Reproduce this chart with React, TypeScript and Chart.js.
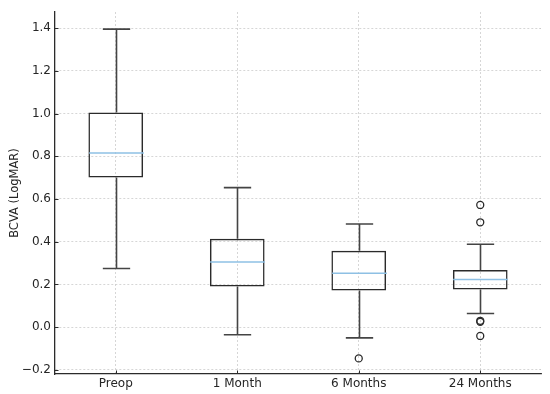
import React, { useEffect, useRef } from "react";
import { Chart, registerables } from "chart.js";

Chart.register(...registerables);

const categories = ["Preop", "1 Month", "6 Months", "24 Months"];
const whiskerLow = [0.275, -0.035, -0.05, 0.064];
const q1 = [0.7, 0.19, 0.172, 0.176];
const median = [0.815, 0.305, 0.252, 0.223];
const q3 = [1.005, 0.414, 0.358, 0.268];
const whiskerHigh = [1.395, 0.653, 0.483, 0.388];
const outlierCategory = ["6 Months", "24 Months", "24 Months", "24 Months", "24 Months", "24 Months"];
const outlierValue = [-0.146, 0.572, 0.491, 0.03, 0.025, -0.041];
const yTicks = [-0.2, 0.0, 0.2, 0.4, 0.6, 0.8, 1.0, 1.2, 1.4];

const BOX_FRAC = 0.45;
const INK = "#2b2b2b";
const GRID = "#cccccc";

const boxPlugin = {
  id: "boxWhiskers",
  afterDatasetsDraw(chart: any) {
    const { ctx } = chart;
    const x = chart.scales.x;
    const y = chart.scales.y;
    const step = x.getPixelForValue(1) - x.getPixelForValue(0);
    const half = (step * BOX_FRAC) / 2;
    ctx.save();
    ctx.lineCap = "butt";
    categories.forEach((_, i) => {
      const cx = Math.round(x.getPixelForValue(i)) + 0.5;
      const pLo = y.getPixelForValue(whiskerLow[i]);
      const pQ1 = y.getPixelForValue(q1[i]);
      const pMed = y.getPixelForValue(median[i]);
      const pQ3 = y.getPixelForValue(q3[i]);
      const pHi = y.getPixelForValue(whiskerHigh[i]);
      ctx.strokeStyle = "#444444";
      ctx.lineWidth = 1.6;
      ctx.beginPath();
      ctx.moveTo(cx, pQ3);
      ctx.lineTo(cx, pHi);
      ctx.moveTo(cx, pQ1);
      ctx.lineTo(cx, pLo);
      ctx.moveTo(cx - half / 2, pHi);
      ctx.lineTo(cx + half / 2, pHi);
      ctx.moveTo(cx - half / 2, pLo);
      ctx.lineTo(cx + half / 2, pLo);
      ctx.stroke();
      ctx.strokeStyle = "#8ec0e4";
      ctx.lineWidth = 1.5;
      ctx.beginPath();
      ctx.moveTo(cx - half, pMed);
      ctx.lineTo(cx + half, pMed);
      ctx.stroke();
    });
    // inward tick marks
    ctx.strokeStyle = INK;
    ctx.lineWidth = 1;
    const left = chart.chartArea.left;
    const bottom = chart.chartArea.bottom;
    ctx.beginPath();
    y.ticks.forEach((t: any) => {
      const py = Math.round(y.getPixelForValue(t.value)) + 0.5;
      ctx.moveTo(left, py);
      ctx.lineTo(left + 3.5, py);
    });
    categories.forEach((_, i) => {
      const px = Math.round(x.getPixelForValue(i)) + 0.5;
      ctx.moveTo(px, bottom);
      ctx.lineTo(px, bottom - 3.5);
    });
    ctx.stroke();
    ctx.restore();
  },
};

export default function App() {
  const ref = useRef<HTMLCanvasElement | null>(null);
  useEffect(() => {
    if (!ref.current) return;
    Chart.defaults.font.family = "'DejaVu Sans', sans-serif";
    Chart.defaults.color = "#262626";
    const chart = new Chart(ref.current, {
      type: "bar",
      data: {
        labels: categories,
        datasets: [
          {
            type: "bar",
            data: categories.map((_, i) => [q1[i], q3[i]]),
            backgroundColor: "rgba(0,0,0,0)",
            borderColor: INK,
            borderWidth: 1.5,
            borderSkipped: false,
            barPercentage: BOX_FRAC,
            categoryPercentage: 1,
            order: 2,
          } as any,
          {
            type: "scatter",
            data: outlierValue.map((v, i) => ({ x: outlierCategory[i], y: v })),
            pointStyle: "circle",
            pointRadius: 3.5,
            pointBackgroundColor: "rgba(0,0,0,0)",
            pointBorderColor: INK,
            pointBorderWidth: 1.3,
            order: 1,
          } as any,
        ],
      },
      options: {
        responsive: false,
        animation: false,
        layout: { padding: { top: 12, right: 9, left: 0, bottom: 0 } },
        plugins: { legend: { display: false }, tooltip: { enabled: false } },
        scales: {
          x: {
            type: "category",
            offset: true,
            grid: {
              offset: false,
              color: GRID,
              lineWidth: 0.8,
              drawTicks: false,
            } as any,
            border: { display: true, color: INK, width: 1.3, dash: [2, 2] },
            ticks: { font: { size: 12 }, padding: 3, color: "#262626" },
            afterFit(scale: any) {
              scale.height = 20;
            },
          },
          y: {
            type: "linear",
            min: -0.219,
            max: 1.475,
            grid: {
              color: GRID,
              lineWidth: 0.8,
              drawTicks: false,
            } as any,
            border: { display: true, color: INK, width: 1.3, dash: [2, 2] },
            afterBuildTicks(scale: any) {
              scale.ticks = yTicks.map((v) => ({ value: v }));
            },
            ticks: {
              font: { size: 12 },
              padding: 4,
              color: "#262626",
              callback: (v: any) => {
                const n = Number(v);
                const s = Math.abs(n).toFixed(1);
                return n < -1e-9 ? "\u2212" + s : s;
              },
            },
            title: {
              display: true,
              text: "BCVA (LogMAR)",
              font: { size: 11.5 },
              color: "#262626",
              padding: { top: 8, bottom: 0 },
            },
            afterFit(scale: any) {
              scale.width = 55;
            },
          },
        },
      },
      plugins: [boxPlugin],
    });
    return () => chart.destroy();
  }, []);
  return (
    <div style={{ position: "fixed", left: 0, top: 0, width: 550, height: 394, background: "#fff" }}>
      <canvas ref={ref} width={550} height={394} style={{ display: "block" }} />
    </div>
  );
}
